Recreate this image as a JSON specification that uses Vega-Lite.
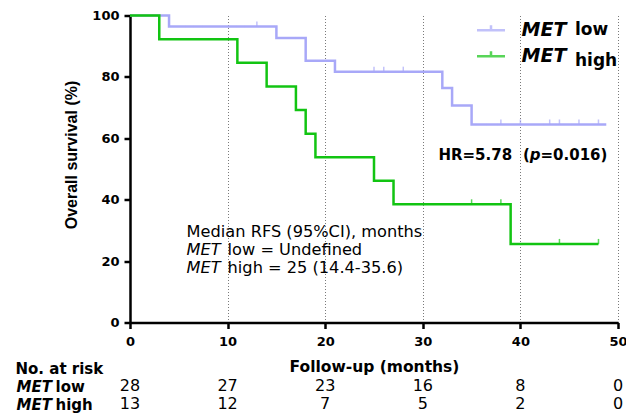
{
  "$schema": "https://vega.github.io/schema/vega-lite/v6.json",
  "background": "white",
  "padding": {"left": 15, "top": 9.5, "right": 0, "bottom": 0},
  "bounds": "flush",
  "spacing": 54.7,
  "config": {"view": {"stroke": null}, "font": "DejaVu Sans"},
  "datasets": {
    "km": [
      {"group": "MET low", "level": "low", "month": 0, "surv": 100},
      {"group": "MET low", "level": "low", "month": 4, "surv": 96.4},
      {"group": "MET low", "level": "low", "month": 15, "surv": 92.7},
      {"group": "MET low", "level": "low", "month": 18, "surv": 85.3},
      {"group": "MET low", "level": "low", "month": 21, "surv": 81.7},
      {"group": "MET low", "level": "low", "month": 32, "surv": 76.4},
      {"group": "MET low", "level": "low", "month": 33, "surv": 70.7},
      {"group": "MET low", "level": "low", "month": 35, "surv": 64.5},
      {"group": "MET low", "level": "low", "month": 48.8, "surv": 64.5},
      {"group": "MET high", "level": "high", "month": 0, "surv": 100},
      {"group": "MET high", "level": "high", "month": 3, "surv": 92.3},
      {"group": "MET high", "level": "high", "month": 11, "surv": 84.6},
      {"group": "MET high", "level": "high", "month": 14, "surv": 76.9},
      {"group": "MET high", "level": "high", "month": 17, "surv": 69.2},
      {"group": "MET high", "level": "high", "month": 18, "surv": 61.5},
      {"group": "MET high", "level": "high", "month": 19, "surv": 53.8},
      {"group": "MET high", "level": "high", "month": 25, "surv": 46.2},
      {"group": "MET high", "level": "high", "month": 27, "surv": 38.5},
      {"group": "MET high", "level": "high", "month": 39, "surv": 25.6},
      {"group": "MET high", "level": "high", "month": 48, "surv": 25.6}
    ],
    "censor": [
      {"group": "MET low", "month": 13, "surv": 96.4},
      {"group": "MET low", "month": 25, "surv": 81.7},
      {"group": "MET low", "month": 26, "surv": 81.7},
      {"group": "MET low", "month": 28, "surv": 81.7},
      {"group": "MET low", "month": 38, "surv": 64.5},
      {"group": "MET low", "month": 40, "surv": 64.5},
      {"group": "MET low", "month": 43, "surv": 64.5},
      {"group": "MET low", "month": 44, "surv": 64.5},
      {"group": "MET low", "month": 46, "surv": 64.5},
      {"group": "MET low", "month": 48, "surv": 64.5},
      {"group": "MET high", "month": 35, "surv": 38.5},
      {"group": "MET high", "month": 38, "surv": 38.5},
      {"group": "MET high", "month": 44, "surv": 25.6},
      {"group": "MET high", "month": 48, "surv": 25.6}
    ],
    "risk": [
      {"group": "MET low", "month": 0, "n": 28},
      {"group": "MET low", "month": 10, "n": 27},
      {"group": "MET low", "month": 20, "n": 23},
      {"group": "MET low", "month": 30, "n": 16},
      {"group": "MET low", "month": 40, "n": 8},
      {"group": "MET low", "month": 50, "n": 0},
      {"group": "MET high", "month": 0, "n": 13},
      {"group": "MET high", "month": 10, "n": 12},
      {"group": "MET high", "month": 20, "n": 7},
      {"group": "MET high", "month": 30, "n": 5},
      {"group": "MET high", "month": 40, "n": 2},
      {"group": "MET high", "month": 50, "n": 0}
    ]
  },
  "resolve": {"legend": {"color": "independent", "strokeDash": "independent"}},
  "vconcat": [
    {
      "width": 488,
      "height": 307,
      "layer": [
        {
          "data": {"name": "km"},
          "mark": {"type": "line", "interpolate": "step-after", "strokeWidth": 2.5},
          "encoding": {
            "x": {
              "field": "month", "type": "quantitative",
              "scale": {"domain": [0, 50], "nice": false},
              "axis": {
                "values": [0, 10, 20, 30, 40, 50],
                "title": "Follow-up (months)",
                "titleFont": "DejaVu Sans", "titleFontSize": 15.5, "titleFontWeight": "bold", "titleColor": "black", "titlePadding": 11,
                "labelFont": "DejaVu Sans", "labelFontSize": 13, "labelFontWeight": "bold", "labelColor": "black", "labelPadding": 6.5, "labelFlush": false,
                "tickSize": 6, "tickWidth": 2.5, "tickColor": "black",
                "domainColor": "black", "domainWidth": 2.5,
                "grid": true, "gridDash": [1, 2], "gridColor": "#7a7a7a", "gridWidth": 1
              }
            },
            "y": {
              "field": "surv", "type": "quantitative",
              "scale": {"domain": [0, 100], "nice": false},
              "axis": {
                "values": [0, 20, 40, 60, 80, 100],
                "title": "Overall survival  (%)",
                "titleFont": "Liberation Sans", "titleFontSize": 16, "titleFontWeight": "bold", "titleColor": "black",
                "titleX": -51, "titleY": 139, "titleAngle": -90, "titleAlign": "center", "titleBaseline": "bottom",
                "labelFont": "DejaVu Sans", "labelFontSize": 13, "labelFontWeight": "bold", "labelColor": "black", "labelPadding": 5, "labelFlush": false,
                "tickSize": 6, "tickWidth": 2.5, "tickColor": "black",
                "domainColor": "black", "domainWidth": 2.5, "grid": false
              }
            },
            "color": {
              "field": "group", "type": "nominal",
              "scale": {"domain": ["MET low", "MET high"], "range": ["#a8a8f8", "#12c412"]},
              "legend": {
                "orient": "none", "legendX": 345.5, "legendY": -0.8, "title": null, "padding": 0,
                "labelExpr": "'MET'", "labelFont": "DejaVu Sans", "labelFontSize": 19, "labelFontWeight": "bold", "labelFontStyle": "italic", "labelColor": "black",
                "symbolType": "M-1,0H1M0,0V-0.35", "symbolSize": 784, "symbolStrokeWidth": 2.5, "labelOffset": 15, "rowPadding": -2
              }
            },
            "strokeDash": {
              "field": "level", "type": "nominal",
              "scale": {"domain": ["low", "high"], "range": [[1, 0], [1, 0]]},
              "legend": {
                "orient": "none", "legendX": 428, "legendY": 6.2, "title": null, "padding": 0,
                "labelFont": "DejaVu Sans", "labelFontSize": 17, "labelFontWeight": "bold", "labelColor": "black",
                "symbolSize": 0, "symbolStrokeWidth": 0, "symbolOpacity": 0, "labelOffset": 0, "rowPadding": 12.3
              }
            }
          }
        },
        {
          "data": {"name": "censor"},
          "mark": {"type": "tick", "orient": "vertical", "size": 5, "thickness": 1.5, "yOffset": -2.5},
          "encoding": {
            "x": {"field": "month", "type": "quantitative"},
            "y": {"field": "surv", "type": "quantitative"},
            "color": {"field": "group", "type": "nominal"}
          }
        },
        {
          "data": {"values": [{}]},
          "mark": {"type": "text", "text": "Median RFS (95%CI), months", "align": "left", "baseline": "middle", "font": "DejaVu Sans", "fontSize": 16.2, "color": "black"},
          "encoding": {"x": {"datum": 5.8, "type": "quantitative"}, "y": {"datum": 29.4, "type": "quantitative"}}
        },
        {
          "data": {"values": [{}]},
          "mark": {"type": "text", "text": "MET", "align": "left", "baseline": "middle", "font": "DejaVu Sans", "fontSize": 16.2, "fontStyle": "italic", "color": "black"},
          "encoding": {"x": {"datum": 5.8, "type": "quantitative"}, "y": {"datum": 23.5, "type": "quantitative"}}
        },
        {
          "data": {"values": [{}]},
          "mark": {"type": "text", "text": "low = Undefined", "align": "left", "baseline": "middle", "dx": 41, "font": "DejaVu Sans", "fontSize": 16.2, "color": "black"},
          "encoding": {"x": {"datum": 5.8, "type": "quantitative"}, "y": {"datum": 23.5, "type": "quantitative"}}
        },
        {
          "data": {"values": [{}]},
          "mark": {"type": "text", "text": "MET", "align": "left", "baseline": "middle", "font": "DejaVu Sans", "fontSize": 16.2, "fontStyle": "italic", "color": "black"},
          "encoding": {"x": {"datum": 5.8, "type": "quantitative"}, "y": {"datum": 17.6, "type": "quantitative"}}
        },
        {
          "data": {"values": [{}]},
          "mark": {"type": "text", "text": "high = 25 (14.4-35.6)", "align": "left", "baseline": "middle", "dx": 41, "font": "DejaVu Sans", "fontSize": 16.2, "color": "black"},
          "encoding": {"x": {"datum": 5.8, "type": "quantitative"}, "y": {"datum": 17.6, "type": "quantitative"}}
        },
        {
          "data": {"values": [{}]},
          "mark": {"type": "text", "text": "HR=5.78", "align": "left", "baseline": "middle", "font": "DejaVu Sans", "fontSize": 15, "fontWeight": "bold", "color": "black"},
          "encoding": {"x": {"datum": 31.6, "type": "quantitative"}, "y": {"datum": 54.7, "type": "quantitative"}}
        },
        {
          "data": {"values": [{}]},
          "mark": {"type": "text", "text": "(", "align": "left", "baseline": "middle", "dx": 84.5, "font": "DejaVu Sans", "fontSize": 15, "fontWeight": "bold", "color": "black"},
          "encoding": {"x": {"datum": 31.6, "type": "quantitative"}, "y": {"datum": 54.7, "type": "quantitative"}}
        },
        {
          "data": {"values": [{}]},
          "mark": {"type": "text", "text": "p", "align": "left", "baseline": "middle", "dx": 91.4, "font": "DejaVu Sans", "fontSize": 15, "fontWeight": "bold", "fontStyle": "italic", "color": "black"},
          "encoding": {"x": {"datum": 31.6, "type": "quantitative"}, "y": {"datum": 54.7, "type": "quantitative"}}
        },
        {
          "data": {"values": [{}]},
          "mark": {"type": "text", "text": "=0.016)", "align": "left", "baseline": "middle", "dx": 102.1, "font": "DejaVu Sans", "fontSize": 15, "fontWeight": "bold", "color": "black"},
          "encoding": {"x": {"datum": 31.6, "type": "quantitative"}, "y": {"datum": 54.7, "type": "quantitative"}}
        }
      ]
    },
    {
      "width": 488,
      "height": 36,
      "data": {"name": "risk"},
      "resolve": {"axis": {"y": "independent"}},
      "layer": [
        {
          "mark": {"type": "text", "font": "DejaVu Sans", "fontSize": 16, "color": "black", "baseline": "middle"},
          "encoding": {
            "x": {"field": "month", "type": "quantitative", "scale": {"domain": [0, 50], "nice": false}, "axis": null},
            "y": {
              "field": "group", "type": "nominal",
              "scale": {"domain": ["MET low", "MET high"], "paddingInner": 0, "paddingOuter": 0},
              "axis": {
                "orient": "left",
                "title": "No. at risk", "titleAngle": 0, "titleAlign": "left", "titleBaseline": "middle",
                "titleX": -115, "titleY": -8.7,
                "titleFont": "DejaVu Sans", "titleFontSize": 15, "titleFontWeight": "bold", "titleColor": "black",
                "labelExpr": "'MET'", "labelFont": "DejaVu Sans", "labelFontSize": 15, "labelFontWeight": "bold", "labelFontStyle": "italic", "labelColor": "black",
                "labelAlign": "left", "labelPadding": 114, "ticks": false, "tickSize": 0, "domain": false, "grid": false
              }
            },
            "text": {"field": "n", "type": "quantitative"}
          }
        },
        {
          "transform": [{"filter": "false"}],
          "mark": {"type": "text"},
          "encoding": {
            "y": {
              "field": "group", "type": "nominal",
              "axis": {
                "orient": "left", "title": null,
                "labelExpr": "datum.value == 'MET low' ? 'low' : 'high'",
                "labelFont": "DejaVu Sans", "labelFontSize": 15, "labelFontWeight": "bold", "labelColor": "black",
                "labelAlign": "left", "labelPadding": 75, "ticks": false, "tickSize": 0, "domain": false, "grid": false
              }
            },
            "text": {"field": "n", "type": "quantitative"}
          }
        }
      ]
    }
  ]
}
